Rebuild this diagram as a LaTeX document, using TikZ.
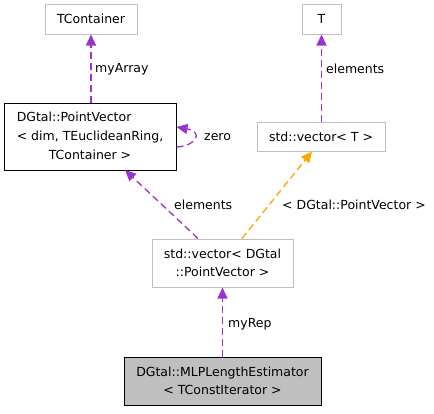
\documentclass[tikz,border=0pt]{standalone}
\usepackage{fontspec}
\setmainfont{DejaVu Sans}
\usetikzlibrary{arrows.meta}
\definecolor{edgepurple}{HTML}{9A32CD}
\definecolor{edgeorange}{HTML}{FFA500}
\definecolor{boxgray}{HTML}{BFBFBF}
\tikzset{
  box/.style={draw=boxgray, line width=1pt, fill=white, inner sep=0pt, align=center,
    font=\fontsize{12.5}{18.5}\selectfont},
  darkbox/.style={box, draw=black},
  lbl/.style={inner sep=0pt, anchor=base west, font=\fontsize{12.5}{15}\selectfont},
  rel/.style={edgepurple, line width=1.3pt, dash pattern=on 7pt off 4pt,
    -{Triangle[length=11pt,width=10pt]}},
  tmpl/.style={rel, edgeorange}
}
\begin{document}
\begin{tikzpicture}[x=1pt,y=-1pt]
\useasboundingbox (0,0) rectangle (434,413);
\node[box, minimum width=92, minimum height=30] (tc) at (91,19) {TContainer};
\node[box, minimum width=39, minimum height=30] (t) at (321.5,19) {T};
\node[darkbox, minimum width=172, minimum height=67] (pv) at (90,136.5)
  {\begin{tabular}{@{}l@{}}DGtal::PointVector\\[0.5pt] < dim, TEuclideanRing,\\[0.5pt]\multicolumn{1}{@{}c@{}}{TContainer >}\end{tabular}};
\node[box, minimum width=128, minimum height=29] (vt) at (321,136.5) {std::vector< T >};
\node[box, minimum width=141, minimum height=48] (vpv) at (222.5,263)
  {std::vector< DGtal\\::PointVector >};
\node[darkbox, fill=boxgray, minimum width=197, minimum height=48] (mlp) at (222.5,381)
  {DGtal::MLPLengthEstimator\\< TConstIterator >};

\draw[rel] (pv.north -| tc.south) -- (tc.south);
\node[lbl] (l1) at (95,72) {myArray};
\draw[rel] (vt.north -| t.south) -- (t.south);
\node[lbl] (l2) at (326,73) {elements};
\coordinate (la) at (176.5,147);
\coordinate (lb) at (176.5,127);
\draw[rel] (la) .. controls (196,146) and (204,132) .. (lb);
\node[lbl] (l3) at (204,140) {zero};
\draw[rel] (vpv.north -| 198,0) -- (125,170);
\node[lbl] (l4) at (174,209) {elements};
\draw[tmpl] (vpv.north -| 242,0) -- (vt.south -| 312,0);
\node[lbl] (l5) at (282,209) {< DGtal::PointVector >};
\draw[rel] (mlp.north) -- (vpv.south -| mlp.north);
\node[lbl] (l6) at (228,327) {myRep};
\end{tikzpicture}
\end{document}
